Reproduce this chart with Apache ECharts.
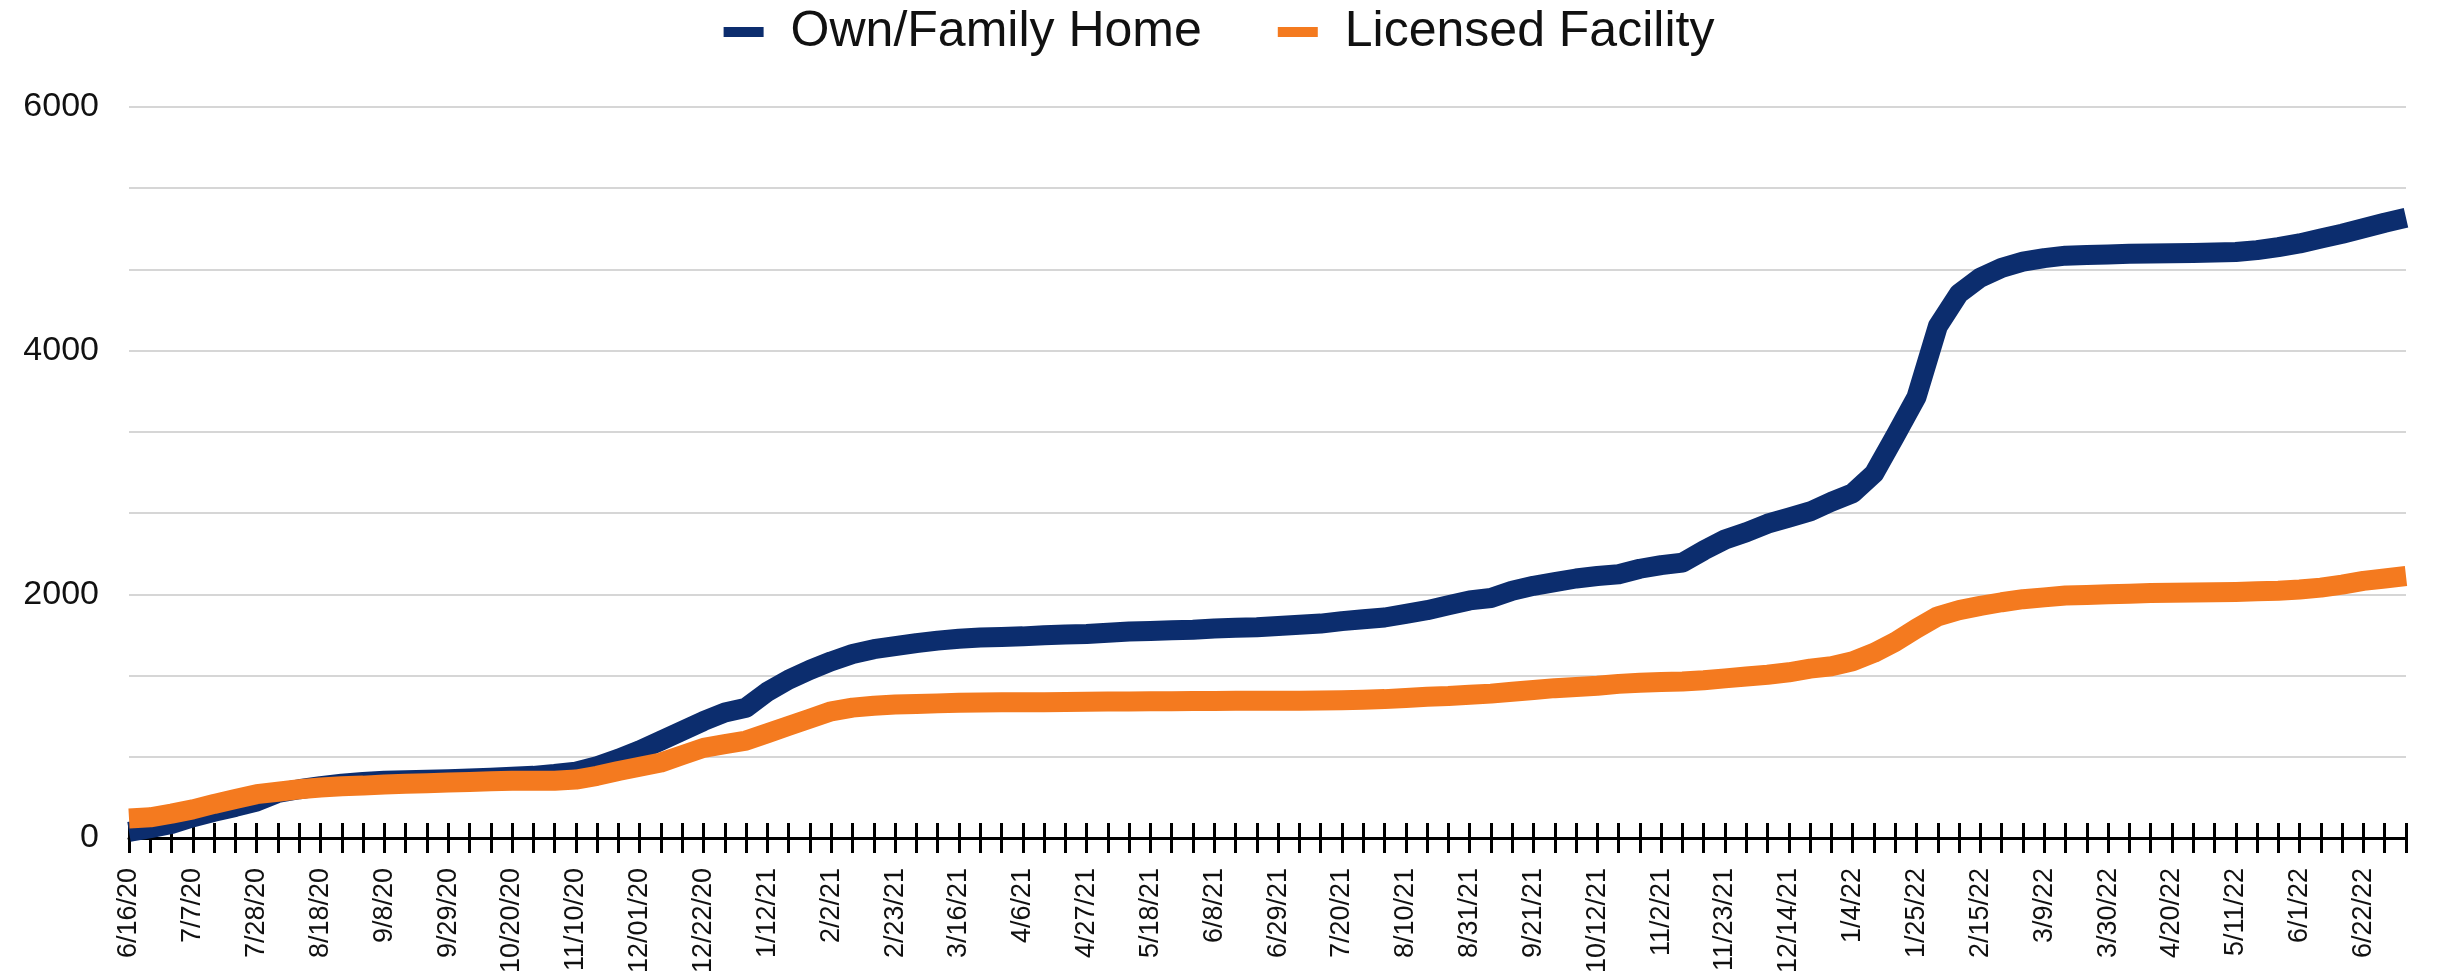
<!DOCTYPE html>
<html>
<head>
<meta charset="utf-8">
<script src="https://cdn.jsdelivr.net/npm/echarts@6/dist/echarts.min.js"></script>
<style>
html,body{margin:0;padding:0;background:#fff;}
#chart{width:2438px;height:980px;}
</style>
</head>
<body>
<div id="chart"></div>
<script>
var weeks = [
'6/16/20','6/23/20','6/30/20','7/7/20','7/14/20','7/21/20','7/28/20','8/4/20','8/11/20','8/18/20',
'8/25/20','9/1/20','9/8/20','9/15/20','9/22/20','9/29/20','10/6/20','10/13/20','10/20/20','10/27/20',
'11/3/20','11/10/20','11/17/20','11/24/20','12/01/20','12/8/20','12/15/20','12/22/20','12/29/20','1/5/21',
'1/12/21','1/19/21','1/26/21','2/2/21','2/9/21','2/16/21','2/23/21','3/2/21','3/9/21','3/16/21',
'3/23/21','3/30/21','4/6/21','4/13/21','4/20/21','4/27/21','5/4/21','5/11/21','5/18/21','5/25/21',
'6/1/21','6/8/21','6/15/21','6/22/21','6/29/21','7/6/21','7/13/21','7/20/21','7/27/21','8/3/21',
'8/10/21','8/17/21','8/24/21','8/31/21','9/7/21','9/14/21','9/21/21','9/28/21','10/5/21','10/12/21',
'10/19/21','10/26/21','11/2/21','11/9/21','11/16/21','11/23/21','11/30/21','12/7/21','12/14/21','12/21/21',
'12/28/21','1/4/22','1/11/22','1/18/22','1/25/22','2/1/22','2/8/22','2/15/22','2/22/22','3/1/22',
'3/9/22','3/16/22','3/23/22','3/30/22','4/6/22','4/13/22','4/20/22','4/27/22','5/4/22','5/11/22',
'5/18/22','5/25/22','6/1/22','6/8/22','6/15/22','6/22/22','6/29/22','7/6/22'
];

var ownFamilyHome = [
50,80,115,170,215,255,300,370,400,425,
445,460,470,475,478,482,488,495,503,510,
525,545,590,650,720,800,880,960,1030,1070,
1200,1300,1380,1450,1510,1550,1575,1600,1620,1635,
1645,1650,1655,1665,1670,1675,1685,1695,1700,1705,
1710,1720,1725,1730,1740,1750,1760,1780,1795,1810,
1840,1870,1910,1950,1970,2030,2070,2100,2130,2150,
2165,2210,2240,2260,2360,2450,2510,2580,2630,2680,
2760,2830,2990,3300,3620,4200,4470,4600,4680,4730,
4760,4780,4785,4790,4795,4798,4800,4802,4805,4810,
4825,4850,4880,4920,4960,5005,5050,5090
];

var licensedFacility = [
160,170,200,235,280,320,360,380,400,415,
425,430,440,445,450,455,460,465,470,470,
470,480,510,550,585,620,680,740,770,800,
860,920,980,1040,1070,1085,1095,1100,1105,1110,
1112,1115,1115,1115,1117,1118,1120,1120,1122,1123,
1125,1125,1126,1126,1126,1127,1128,1130,1135,1140,
1150,1160,1165,1175,1185,1200,1215,1230,1240,1250,
1265,1275,1280,1285,1295,1310,1325,1340,1360,1390,
1410,1450,1520,1610,1720,1820,1870,1905,1935,1960,
1975,1990,1995,2000,2005,2010,2012,2015,2018,2020,
2025,2030,2040,2055,2080,2110,2130,2150
];

var seriesNames = ['Own/Family Home', 'Licensed Facility'];
var seriesColors = ['#0c2d6e', '#f47a1f'];
var yTicks = [0, 2000, 4000, 6000];

var font = '"Liberation Sans", Arial, Helvetica, sans-serif';
var chart = echarts.init(document.getElementById('chart'));
chart.setOption({
  animation: false,
  backgroundColor: '#ffffff',
  legend: {
    top: 2,
    left: 'center',
    icon: 'rect',
    itemWidth: 40,
    itemHeight: 10,
    itemGap: 76,
    data: seriesNames,
    textStyle: { fontFamily: font, fontSize: 50, color: '#111', padding: [0, 0, 0, 22] }
  },
  grid: { left: 129, right: 32, top: 107, bottom: 142, containLabel: false },
  xAxis: [{
    type: 'category',
    position: 'bottom',
    data: weeks,
    boundaryGap: false,
    axisLine: { show: true, lineStyle: { color: '#000', width: 3 } },
    axisTick: { show: true, interval: 0, length: 15, lineStyle: { color: '#000', width: 3 } },
    axisLabel: {
      interval: 2, rotate: 90, margin: 30,
      fontFamily: font, fontSize: 27, color: '#111'
    },
    splitLine: { show: false }
  }, {
    type: 'category',
    position: 'bottom',
    data: weeks,
    boundaryGap: false,
    axisLine: { show: false },
    axisTick: { show: true, inside: true, interval: 0, length: 15, lineStyle: { color: '#000', width: 3 } },
    axisLabel: { show: false },
    splitLine: { show: false }
  }],
  yAxis: {
    type: 'value',
    min: yTicks[0],
    max: yTicks[yTicks.length - 1],
    interval: 2000,
    axisLine: { show: false },
    axisTick: { show: false },
    axisLabel: {
      margin: 30, fontFamily: font, fontSize: 34, color: '#111',
      formatter: function (v) { return String(v); }
    },
    splitLine: { show: true, lineStyle: { color: '#d6d6d6', width: 2 } },
    minorTick: { show: false, splitNumber: 3 },
    minorSplitLine: { show: true, lineStyle: { color: '#d6d6d6', width: 2 } }
  },
  series: [{
    name: seriesNames[0],
    type: 'line',
    xAxisIndex: 0,
    data: ownFamilyHome,
    color: seriesColors[0],
    showSymbol: false,
    symbol: 'none',
    lineStyle: { width: 20, color: seriesColors[0], join: 'round', cap: 'butt' }
  }, {
    name: seriesNames[1],
    type: 'line',
    xAxisIndex: 0,
    data: licensedFacility,
    color: seriesColors[1],
    showSymbol: false,
    symbol: 'none',
    lineStyle: { width: 20, color: seriesColors[1], join: 'round', cap: 'butt' }
  }]
});
</script>
</body>
</html>
